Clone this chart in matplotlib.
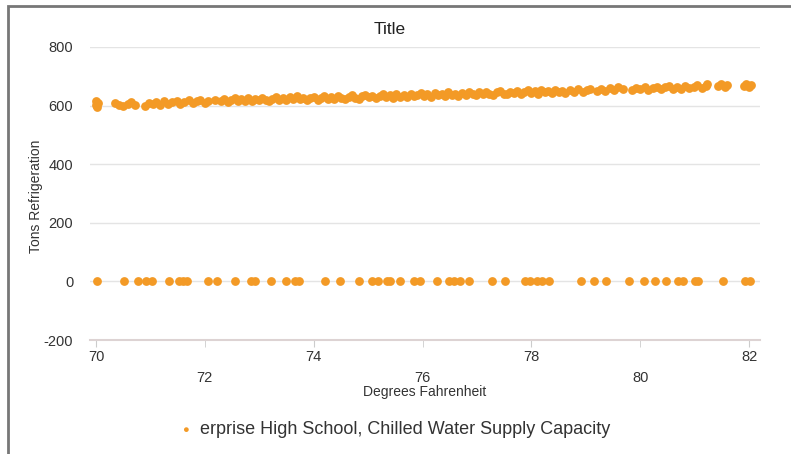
import matplotlib.pyplot as plt
from matplotlib.patches import Rectangle

plt.rcParams['font.family'] = ['Liberation Sans', 'DejaVu Sans']
plt.rcParams['axes.unicode_minus'] = False

# Supply capacity readings (degrees F, tons)
upper_x = [70.0, 70.0, 70.02, 70.03,
           70.35, 70.42, 70.5, 70.58, 70.65, 70.72,
           70.9, 70.97, 71.05, 71.1, 71.18, 71.25, 71.32, 71.4, 71.48, 71.55,
           71.62, 71.7, 71.78, 71.85, 71.92, 72.0, 72.06, 72.19,
           72.30, 72.36, 72.42, 72.48, 72.55, 72.61, 72.67, 72.74, 72.80, 72.86,
           72.93, 72.99, 73.05, 73.12, 73.18, 73.24, 73.31, 73.37, 73.43, 73.50,
           73.56, 73.62, 73.69, 73.75, 73.81, 73.88, 73.94, 74.00, 74.07, 74.13,
           74.19, 74.26, 74.32, 74.38, 74.45, 74.51, 74.57, 74.64, 74.70, 74.76,
           74.83, 74.89, 74.95, 75.02, 75.08, 75.14, 75.21, 75.27, 75.33, 75.40,
           75.46, 75.52, 75.59, 75.65, 75.71, 75.78, 75.84, 75.90, 75.97, 76.03,
           76.09, 76.16, 76.22, 76.28, 76.35, 76.41, 76.47, 76.54, 76.60, 76.66,
           76.73, 76.79, 76.85, 76.92, 76.98, 77.04, 77.11, 77.17, 77.23, 77.30,
           77.36, 77.42, 77.49, 77.55, 77.61, 77.68, 77.74, 77.80, 77.87, 77.93,
           77.99, 78.06, 78.12, 78.18, 78.25, 78.31, 78.37, 78.44, 78.50, 78.56,
           78.62, 78.70, 78.78, 78.86, 78.94, 79.02, 79.08,
           79.20, 79.28, 79.36, 79.44, 79.52, 79.60, 79.68,
           79.85, 79.92, 80.00, 80.08, 80.15, 80.23, 80.30, 80.38, 80.45, 80.53,
           80.60, 80.68, 80.75, 80.83, 80.90, 80.98, 81.05, 81.13, 81.20, 81.23,
           81.42, 81.48, 81.55, 81.60,
           81.90, 81.95, 82.00, 82.03]
upper_y = [603, 614, 596, 608,
           609, 603, 597, 607, 612, 602,
           600, 610, 605, 612, 603, 614, 606, 611, 615, 607,
           613, 618, 608, 614, 619, 610, 616, 620,
           615, 622, 612, 620, 625, 614, 621, 616, 626, 617,
           623, 618, 627, 619, 616, 624, 629, 620, 626, 618,
           629, 623, 632, 621, 627, 618, 625, 630, 620, 627,
           633, 622, 629, 624, 634, 626, 622, 631, 636, 627,
           624, 632, 637, 628, 634, 626, 632, 638, 629, 635,
           627, 639, 631, 636, 629, 640, 632, 637, 642, 633,
           639, 631, 643, 635, 640, 633, 645, 636, 641, 634,
           644, 637, 647, 639, 635, 645, 638, 648, 640, 636,
           646, 650, 641, 638, 648, 642, 651, 640, 647, 652,
           643, 649, 641, 653, 645, 650, 643, 654, 646, 651,
           644, 652, 647, 656, 648, 654, 658,
           649, 656, 651, 660, 653, 662, 655,
           654, 661, 656, 664, 653, 660, 665, 656, 662, 667,
           658, 664, 657, 668, 660, 665, 670, 661, 667, 672,
           666, 674, 664, 671,
           667, 675, 662, 671]

lower_x = [70.01, 70.51, 70.77, 70.91, 71.02, 71.34, 71.53, 71.59, 71.67, 72.06,
           72.23, 72.55, 72.84, 72.92, 73.21, 73.49, 73.65, 73.73, 74.21, 74.48,
           74.83, 75.08, 75.18, 75.34, 75.40, 75.59, 75.84, 75.95, 76.26, 76.49,
           76.57, 76.68, 76.85, 77.27, 77.52, 77.88, 77.97, 78.10, 78.19, 78.32,
           78.92, 79.15, 79.37, 79.80, 80.06, 80.27, 80.47, 80.69, 80.79, 81.00,
           81.06, 81.52, 81.93, 82.02]
lower_y = [0] * len(lower_x)

x_major = [70, 74, 78, 82]
x_minor = [72, 76, 80]
y_ticks = [-200, 0, 200, 400, 600, 800]

orange = '#F39A26'
text_col = '#333333'

fig = plt.figure(figsize=(7.91, 4.54), dpi=100)
ax = fig.add_axes([0.1138, 0.2511, 0.847, 0.6454])

ax.scatter(upper_x + lower_x, upper_y + lower_y, s=40, color=orange,
           linewidths=0, zorder=3)

ax.set_xlim(69.89, 82.2)
ax.set_ylim(-200, 800)
ax.set_yticks(y_ticks)
ax.set_xticks(x_major)
ax.set_xticks(x_minor, minor=True)
ax.set_xticklabels([str(v) for v in x_major])
ax.set_xticklabels([str(v) for v in x_minor], minor=True)
ax.tick_params(axis='x', which='major', length=5, color='#cccccc', pad=2,
               labelsize=10.5, labelcolor=text_col)
ax.tick_params(axis='x', which='minor', length=5, color='#cccccc', pad=17,
               labelsize=10.5, labelcolor=text_col)
ax.tick_params(axis='y', length=0, pad=12, labelsize=10.5, labelcolor=text_col)

ax.grid(axis='y', color='#e4e4e4', linewidth=1)
ax.set_axisbelow(True)
for side in ['top', 'right', 'left']:
    ax.spines[side].set_visible(False)
ax.spines['bottom'].set_color('#ddd3d3')
ax.spines['bottom'].set_linewidth(1.5)

fig.text(390 / 791, 1 - 29 / 454, 'Title', fontsize=12.5, color='#222222',
         ha='center', va='center')
ax.set_xlabel('Degrees Fahrenheit', fontsize=10, color=text_col)
ax.xaxis.set_label_coords(0.5, -0.155)
ax.set_ylabel('Tons Refrigeration', fontsize=10, color=text_col)
ax.yaxis.set_label_coords(-0.07, 0.49)

# legend below the plot
fig.text(185 / 791, 1 - 430 / 454, '\u25CF', color=orange, fontsize=8,
         ha='center', va='center')
fig.text(200 / 791, 1 - 429 / 454, 'erprise High School, Chilled Water Supply Capacity',
         fontsize=13, color=text_col, ha='left', va='center')

# window frame
fig.patches.append(Rectangle((8 / 791, -0.1), 1.1, 1 - 6 / 454 + 0.1,
                             transform=fig.transFigure, fill=False,
                             edgecolor='#777777', linewidth=2))

fig.savefig('out.png', dpi=100)
